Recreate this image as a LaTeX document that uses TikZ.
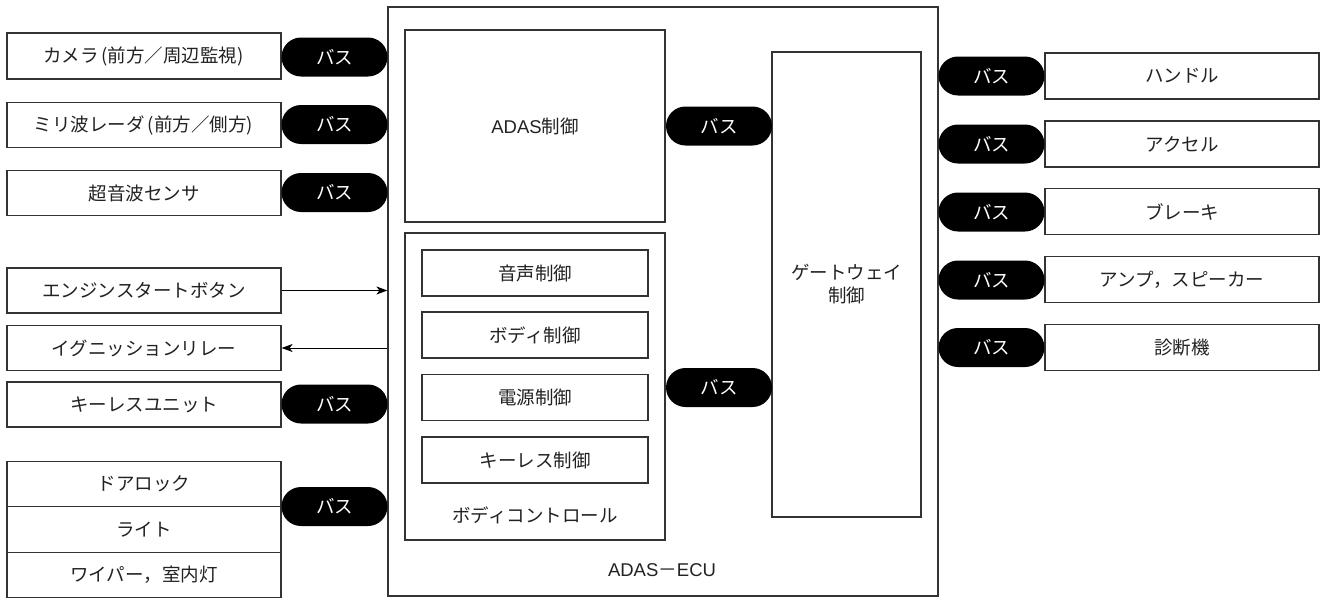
\documentclass[tikz,border=0pt]{standalone}
\usepackage{fontspec}
\setmainfont{Noto Sans CJK JP}
\newfontfamily\latn{Liberation Sans}
\usetikzlibrary{arrows.meta}
\definecolor{ln}{HTML}{333333}
\definecolor{tx}{HTML}{222222}
\newcommand{\lp}{\kern3pt(}
\newcommand{\rp}{)\kern1pt}
\tikzset{
  box/.style={draw=ln, line width=1.2pt, fill=white, text=tx, inner sep=0pt, font=\fontsize{18.5}{23}\selectfont},
  bus/.style={fill=black, text=white, rounded corners=19.5pt, minimum width=106pt, minimum height=39pt, inner sep=0pt, font=\fontsize{18.5}{23}\selectfont},
  lbl/.style={text=tx, inner sep=0pt, font=\fontsize{18.5}{23}\selectfont},
  arr/.style={draw=black, line width=1pt, -{Stealth[length=11pt,width=8pt,inset=3pt]}}
}
\begin{document}
\begin{tikzpicture}[x=1pt,y=-1pt]
\useasboundingbox (0,0) rectangle (1327,597);
% ECU
\node[box, minimum width=550pt, minimum height=589pt] (ecu) at (663,301.5) {};
\node[lbl] (ecul) at (662,570) {{\latn ADAS}－{\latn ECU}};
\node[box, minimum width=260pt, minimum height=192pt] (adas) at (535,126) {{\latn ADAS}制御};
\node[box, minimum width=260pt, minimum height=307pt] (body) at (535,386.5) {};
\node[box, minimum width=226pt, minimum height=46pt] (s1) at (535,273) {音声制御};
\node[box, minimum width=226pt, minimum height=46pt] (s2) at (535,335) {ボディ制御};
\node[box, minimum width=226pt, minimum height=46pt] (s3) at (535,397.5) {電源制御};
\node[box, minimum width=226pt, minimum height=46pt] (s4) at (535,460) {キーレス制御};
\node[lbl] (bodyl) at (535,515) {ボディコントロール};
\node[box, minimum width=149pt, minimum height=465pt, align=center] (gw) at (846.5,284.5) {ゲートウェイ\\制御};
\node[bus] (mb1) at (719,126) {バス};
\node[bus] (mb2) at (719,387.5) {バス};
% left devices
\node[box, minimum width=274pt, minimum height=46pt] (cam) at (144,56) {カメラ\lp 前方／周辺監視\rp};
\node[box, minimum width=274pt, minimum height=45pt] (mil) at (144,125) {ミリ波レーダ\lp 前方／側方\rp};
\node[box, minimum width=274pt, minimum height=45pt] (uls) at (144,193) {超音波センサ};
\node[box, minimum width=274pt, minimum height=45pt] (eng) at (144,290.5) {エンジンスタートボタン};
\node[box, minimum width=274pt, minimum height=45pt] (ign) at (144,348) {イグニッションリレー};
\node[box, minimum width=274pt, minimum height=45pt] (key) at (144,404.5) {キーレスユニット};
\node[box, minimum width=274pt, minimum height=45.5pt] (door) at (144,484) {ドアロック};
\node[box, minimum width=274pt, minimum height=45.5pt] (lit) at (144,529.5) {ライト};
\node[box, minimum width=274pt, minimum height=45.5pt] (wip) at (144,575) {ワイパー，室内灯};
\node[bus] (lb1) at (334.5,57) {バス};
\node[bus] (lb2) at (334.5,124.5) {バス};
\node[bus] (lb3) at (334.5,192.5) {バス};
\node[bus] (lb4) at (334.5,404) {バス};
\node[bus] (lb5) at (334.5,506.5) {バス};
% right devices
\node[box, minimum width=274pt, minimum height=46pt] (han) at (1182,76) {ハンドル};
\node[box, minimum width=274pt, minimum height=46pt] (acc) at (1182,144) {アクセル};
\node[box, minimum width=274pt, minimum height=46pt] (brk) at (1182,211.5) {ブレーキ};
\node[box, minimum width=274pt, minimum height=46pt] (amp) at (1182,279.5) {アンプ，スピーカー};
\node[box, minimum width=274pt, minimum height=46pt] (dia) at (1182,347.5) {診断機};
\node[bus] (rb1) at (991.5,76) {バス};
\node[bus] (rb2) at (991.5,144) {バス};
\node[bus] (rb3) at (991.5,212) {バス};
\node[bus] (rb4) at (991.5,280) {バス};
\node[bus] (rb5) at (991.5,347.5) {バス};
% arrows
\draw[arr] (eng.east) -- (eng.east -| ecu.west);
\draw[arr] (ign.east -| ecu.west) -- (ign.east);
\end{tikzpicture}
\end{document}
